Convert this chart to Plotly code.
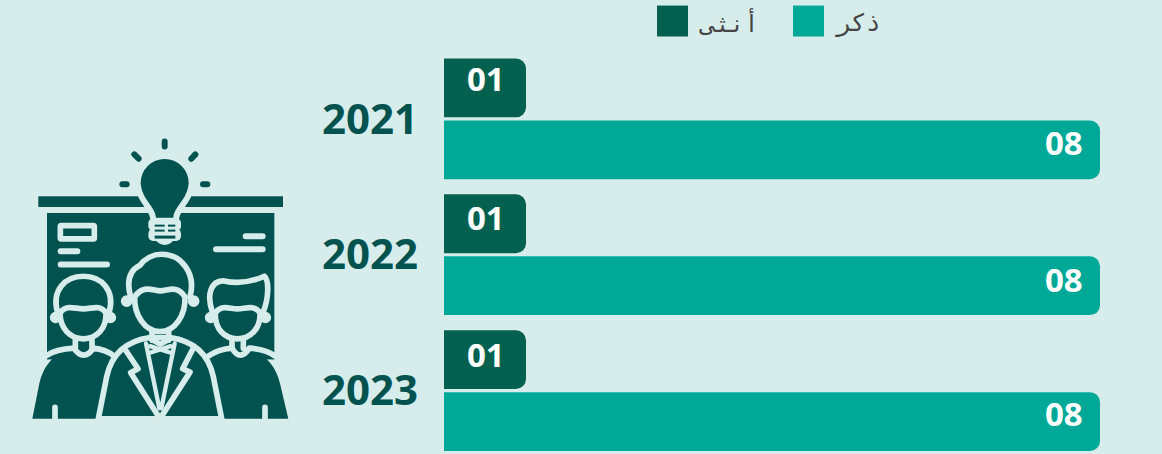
import base64
import plotly.graph_objects as go

years = ["2021", "2022", "2023"]
female = [1, 1, 1]
male = [8, 8, 8]
female_labels = ["01", "01", "01"]
male_labels = ["08", "08", "08"]
female_name = "أنثى"
male_name = "ذكر"

BG = "#d7edeb"
DARK = "#02524f"
FEMALE = "#05614f"
MALE = "#00a997"
W, H = 1162, 454
L, T = 444, 50.5
PW, PH = W - L, H - T
PX_PER_UNIT = 82
PITCH = 136
FEMALE_LABEL_SHIFT = [40, 37, 36]
MALE_LABEL_SHIFT = [-24, -25, -23]


def px(x):
    return (x - L) / PW


def py(y):
    return (H - y) / PH


svg = f'''<svg xmlns="http://www.w3.org/2000/svg" width="930" height="900" viewBox="0 0 930 900">
<rect x="115" y="198" width="734" height="32" fill="{DARK}"/>
<rect x="141" y="248" width="682" height="440" fill="{DARK}"/>
<g stroke="{DARK}" stroke-width="18" stroke-linecap="round" fill="none">
<path d="M494 33V48M403 72L416 85M586 72L574 85M367 162H380M609 162H622"/>
</g>
<path d="M468 262C466 228 425 208 422 158A72 72 0 1 1 566 158C563 208 522 228 520 262Z" fill="{DARK}" stroke="{BG}" stroke-width="36" stroke-linejoin="round"/>
<path d="M468 262C466 228 425 208 422 158A72 72 0 1 1 566 158C563 208 522 228 520 262Z" fill="{DARK}"/>
<rect x="445" y="264" width="98" height="38" rx="14" fill="{BG}"/>
<rect x="445" y="296" width="98" height="36" rx="14" fill="{BG}"/>
<path d="M465 325H523C518 338 505 344 494 344C483 344 470 338 465 325Z" fill="{BG}"/>
<rect x="464" y="283" width="30" height="6" fill="{DARK}"/>
<rect x="504" y="283" width="22" height="6" fill="{DARK}"/>
<rect x="464" y="298" width="30" height="6" fill="{DARK}"/>
<rect x="504" y="298" width="22" height="6" fill="{DARK}"/>
<rect x="464" y="316" width="62" height="9" fill="{DARK}"/>
<g stroke="{BG}" fill="none" stroke-linecap="round" stroke-linejoin="round">
<rect x="181" y="286" width="102" height="40" rx="3" stroke-width="17"/>
<path d="M182 363H232M182 403H321M737 318H788M648 357H788" stroke-width="18"/>
</g>
<g stroke="{BG}" stroke-width="17" stroke-linejoin="round" stroke-linecap="round">
<path d="M97 866L118 760C130 705 165 665 222 656L278 656C300 660 325 668 345 684L345 866Z" fill="{DARK}" stroke="none"/>
<path d="M140 676C160 662 190 656 222 654C240 682 262 682 280 654C300 656 325 664 342 678" fill="none"/>
<path d="M620 866L620 684C640 668 665 660 700 654L725 654C780 660 825 695 840 760L865 866Z" fill="{DARK}" stroke="none"/>
<path d="M625 678C645 664 670 656 696 654C712 682 730 682 748 654C775 656 805 662 825 678" fill="none"/>
<path d="M172 545C155 480 195 438 250 438C305 438 345 480 328 545" fill="none"/>
<path d="M180 548C200 522 222 536 250 536C278 536 298 522 318 548C320 595 290 626 250 626C210 626 180 595 180 548Z" fill="{DARK}"/>
<circle cx="167" cy="562" r="9" fill="{BG}"/><circle cx="331" cy="562" r="9" fill="{BG}"/>
<path d="M226 630V654M276 630V654" fill="none"/>
<path d="M637 545C618 490 635 450 672 452C715 462 755 455 793 438C808 450 806 505 790 545" fill="none"/>
<path d="M646 548C666 522 688 536 712 536C738 536 760 522 780 548C782 595 752 626 712 626C672 626 644 595 646 548Z" fill="{DARK}"/>
<circle cx="632" cy="562" r="9" fill="{BG}"/><circle cx="796" cy="562" r="9" fill="{BG}"/>
<path d="M696 630V654M730 630V654" fill="none"/>
<path d="M165 832V866M795 832V866" fill="none"/>
<path d="M295 866L320 740C335 670 380 632 450 622L510 622C580 632 625 670 640 740L665 866Z" fill="{DARK}"/>
<path d="M392 500C378 450 390 420 420 405C435 385 460 372 485 372C540 372 590 425 570 500" fill="none"/>
<path d="M404 500C430 462 460 482 480 482C505 482 530 462 555 500C557 555 525 604 480 604C435 604 402 555 404 500Z" fill="{DARK}"/>
<circle cx="380" cy="513" r="9" fill="{BG}"/><circle cx="581" cy="513" r="9" fill="{BG}"/>
<path d="M456 606V630M506 606V630" fill="none"/>
<path d="M456 628L480 642L506 628" fill="none"/>
<path d="M378 662L414 716L392 728L480 866L570 726L548 716L582 650" fill="none"/>
<path d="M438 640L478 835M524 640L484 835M450 648L512 668M450 668L512 648" fill="none" stroke-width="13"/>
</g>
</svg>'''
icon_src = "data:image/svg+xml;base64," + base64.b64encode(svg.encode()).decode()

fig = go.Figure()
fig.add_bar(y=years, x=female, orientation="h", name=female_name, marker=dict(color=FEMALE, cornerradius=10, line_width=0))
fig.add_bar(y=years, x=male, orientation="h", name=male_name, marker=dict(color=MALE, cornerradius=10, line_width=0))

annotations = []
for i, (v, t) in enumerate(zip(female, female_labels)):
    annotations.append(dict(x=v, y=i, xref="x", yref="y", text=f"<b>{t}</b>", showarrow=False, xanchor="right", yanchor="middle",
                            xshift=-19, yshift=FEMALE_LABEL_SHIFT[i], font=dict(family="Open Sans", size=33, color="white")))
for i, (v, t) in enumerate(zip(male, male_labels)):
    annotations.append(dict(x=v, y=i, xref="x", yref="y", text=f"<b>{t}</b>", showarrow=False, xanchor="right", yanchor="middle",
                            xshift=-15, yshift=MALE_LABEL_SHIFT[i], font=dict(family="Open Sans", size=33, color="white")))
annotations.append(dict(x=px(729), y=py(22), xref="paper", yref="paper", text=female_name, showarrow=False, xanchor="center", yanchor="middle",
                        font=dict(family="DejaVu Sans Mono", size=24, color="#444444")))
annotations.append(dict(x=px(857), y=py(22), xref="paper", yref="paper", text=male_name, showarrow=False, xanchor="center", yanchor="middle",
                        font=dict(family="DejaVu Sans Mono", size=24, color="#444444")))

shapes = [
    dict(type="rect", xref="paper", yref="paper", x0=px(657), x1=px(688), y0=py(36), y1=py(5), fillcolor=FEMALE, line_width=0),
    dict(type="rect", xref="paper", yref="paper", x0=px(793), x1=px(824), y0=py(36), y1=py(5), fillcolor=MALE, line_width=0),
]

fig.update_layout(
    width=W, height=H, margin=dict(l=L, r=0, t=T, b=0, autoexpand=False),
    paper_bgcolor=BG, plot_bgcolor=BG, showlegend=False, barmode="group",
    bargap=12 / PITCH, bargroupgap=0.05,
    annotations=annotations, shapes=shapes,
    images=[dict(source=icon_src, xref="paper", yref="paper", x=px(0), y=py(130), sizex=310 / PW, sizey=300 / PH,
                 xanchor="left", yanchor="top", sizing="stretch", layer="below")],
    font=dict(family="Open Sans"),
)
fig.update_xaxes(range=[0, PW / PX_PER_UNIT], visible=False, fixedrange=True)
fig.update_yaxes(type="category", categoryorder="array", categoryarray=years, range=[PH / PITCH - 0.5, -0.5],
                 showgrid=False, zeroline=False, showline=False, ticks="", ticklabelstandoff=25,
                 tickfont=dict(family="Open Sans", size=42, color=DARK, weight="bold"), fixedrange=True)
fig.write_html("out.html", config={"displayModeBar": False},
               post_script="document.body.style.margin='0';document.body.style.overflow='hidden';document.body.style.background='" + BG + "';")
